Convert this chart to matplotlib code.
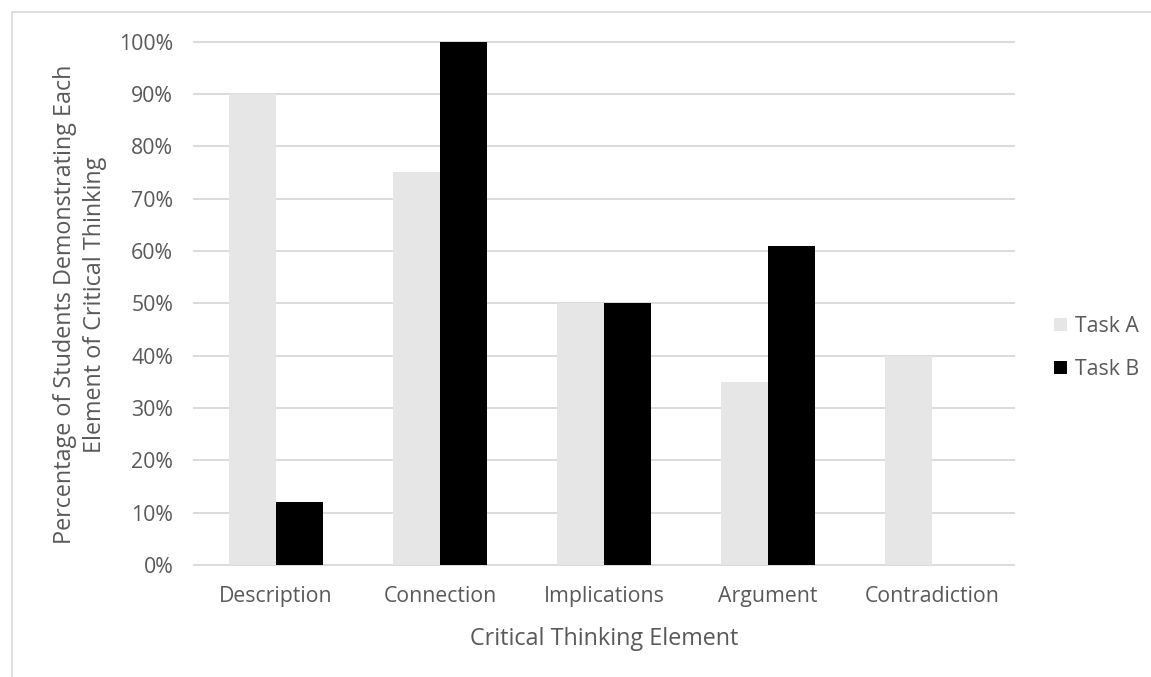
import matplotlib
matplotlib.use("Agg")
import matplotlib.pyplot as plt
import numpy as np
from matplotlib.patches import Rectangle
from matplotlib.ticker import PercentFormatter

categories = ["Description", "Connection", "Implications", "Argument", "Contradiction"]
task_a = [90, 75, 50, 35, 40]
task_b = [12, 100, 50, 61, 0]
series_names = ["Task A", "Task B"]
yticks = [0, 10, 20, 30, 40, 50, 60, 70, 80, 90, 100]

plt.rcParams['font.family'] = ['Open Sans', 'DejaVu Sans']
TXT = '#595959'
FS = 15.3
FT = 16.8

W, H = 1151, 677
fig = plt.figure(figsize=(W / 100, H / 100), dpi=100)
ax = fig.add_axes([194 / W, 1 - 565 / H, (1014 - 194) / W, (565 - 41.5) / H])

x = np.arange(len(categories))
bw = 1 / 3.5
ax.bar(x - bw / 2, task_a, width=bw, color='#e6e6e6', label=series_names[0], zorder=2)
ax.bar(x + bw / 2, task_b, width=bw, color='#000000', label=series_names[1], zorder=2)

ax.set_xlim(-0.5, len(categories) - 0.5)
ax.set_ylim(0, 100)
ax.set_yticks(yticks)
ax.yaxis.set_major_formatter(PercentFormatter(decimals=0))
ax.set_xticks(x)
ax.set_xticklabels(categories)
for s in ax.spines.values():
    s.set_visible(False)
ax.grid(axis='y', color='#d9d9d9', linewidth=1.3, zorder=0)
for gl in ax.get_ygridlines():
    gl.set_clip_on(False)
ax.set_axisbelow(True)
ax.tick_params(axis='both', length=0, colors=TXT, labelsize=FS)
ax.tick_params(axis='y', pad=15)
ax.tick_params(axis='x', pad=15)

fig.text(604 / W, 1 - 645 / H, "Critical Thinking Element", fontsize=FT, color=TXT,
         ha='center', va='baseline')
fig.text(80 / W, 1 - 304.5 / H,
         "Percentage of Students Demonstrating Each\nElement of Critical Thinking",
         fontsize=FT, color=TXT, rotation=90, ha='center', va='center',
         multialignment='center', linespacing=1.35)

ax.legend(loc='center left', bbox_to_anchor=(1054 / W, 1 - 348 / H),
          bbox_transform=fig.transFigure, frameon=False, fontsize=FS,
          handlelength=0.6, handleheight=0.6, handletextpad=0.4,
          labelspacing=1.05, labelcolor=TXT, borderpad=0, borderaxespad=0)

fig.patches.append(Rectangle((11.5 / W, -0.1), 1.2, 1 - 11.5 / H + 0.1,
                             transform=fig.transFigure, fill=False,
                             edgecolor='#d9d9d9', linewidth=1.2))

fig.savefig("out.png", dpi=100)
